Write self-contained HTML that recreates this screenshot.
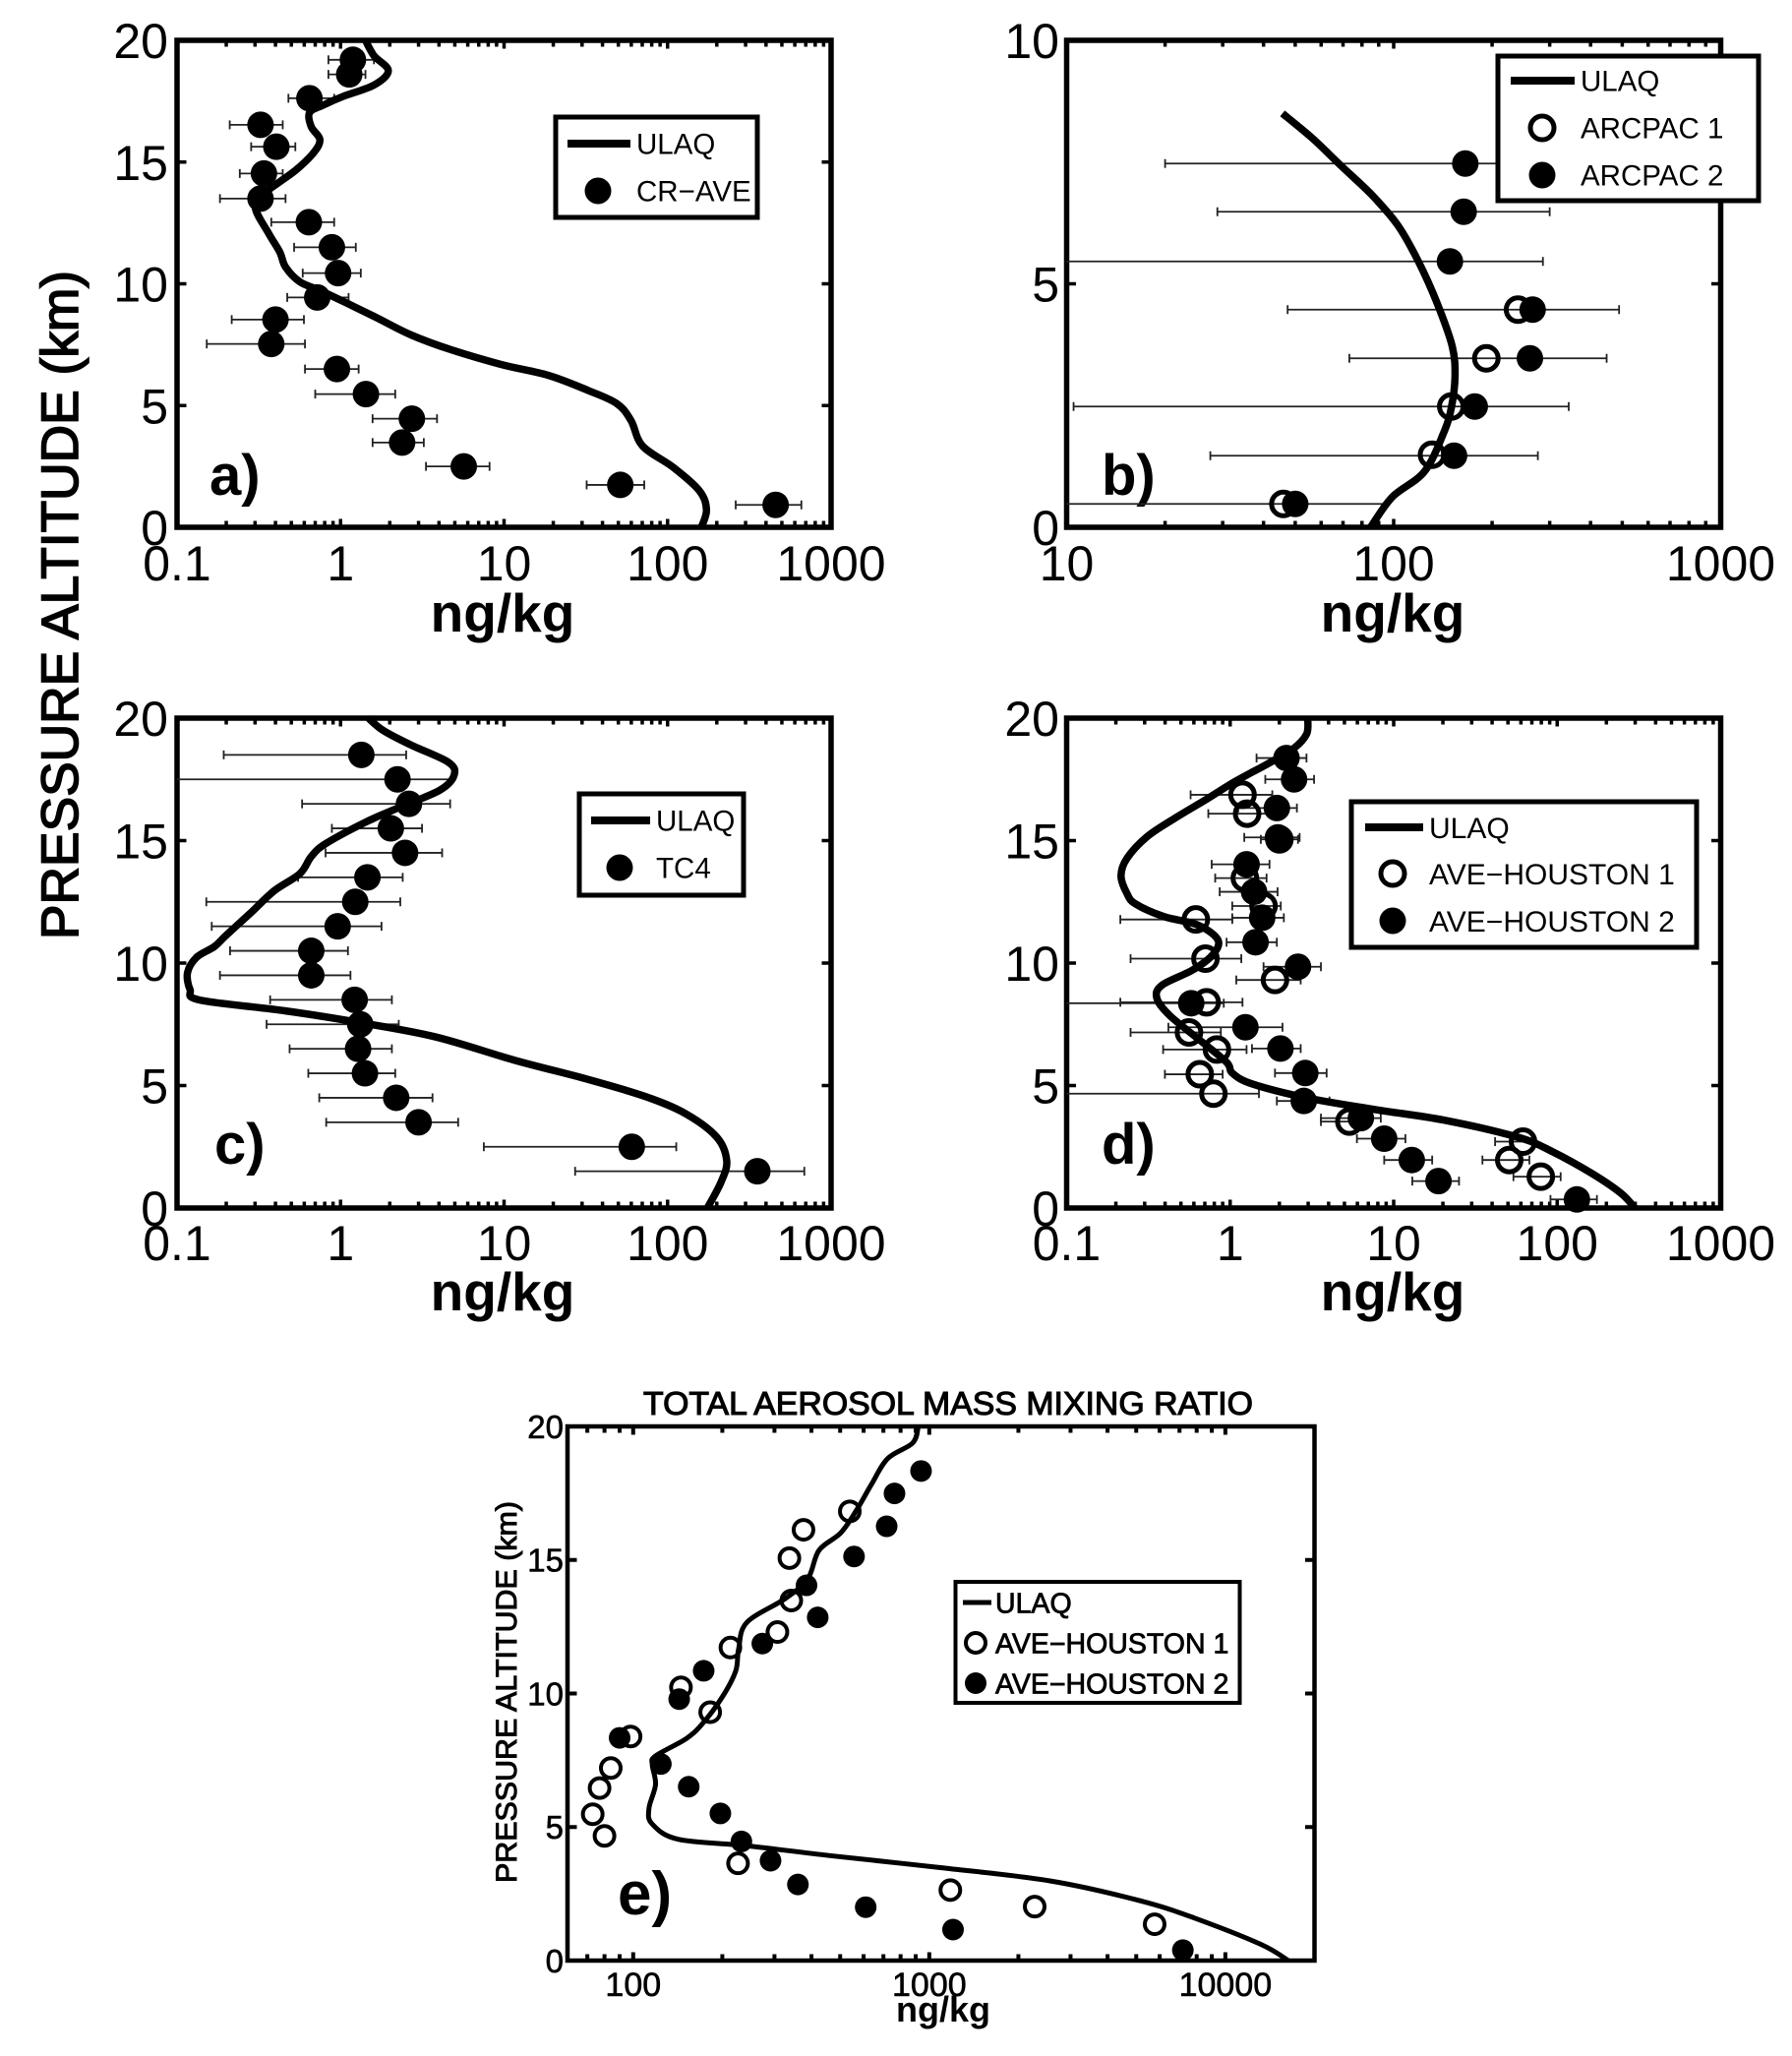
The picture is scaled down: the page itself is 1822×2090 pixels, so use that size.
<!DOCTYPE html>
<html lang="en">
<head>
<meta charset="utf-8">
<title>Aerosol mass mixing ratio profiles</title>
<style>
html,body{margin:0;padding:0;background:#fff;}
#fig{position:absolute;left:0;top:0;width:1822px;height:2090px;}
text{font-family:"Liberation Sans",sans-serif;fill:#000;}
</style>
</head>
<body>
<svg id="fig" xmlns="http://www.w3.org/2000/svg" width="1822" height="2090" viewBox="0 0 1822 2090"></svg>
<script>
// ---------- Panel a: CR-AVE ----------
const aLineX = [1.42,1.60,1.96,1.60,1.03,.778,.646,.662,.747,.689,.542,.425,.348,.301,.362,.425,.461,.564,.747,1.12,1.67,2.70,4.75,9.8,18.7,32.7,49,59.8,70.3,109,157,173,161];
const aLineY = [20,19.37,18.75,18.16,17.69,17.33,17.03,16.45,15.93,15.41,14.71,14.19,13.75,13.14,12.09,11.3,10.69,10.08,9.73,9.17,8.6,7.9,7.29,6.67,6.24,5.62,5.08,4.38,3.34,2.45,1.49,.71,0];
const aObsAlt = [19.2,18.6,17.62,16.53,15.63,14.53,13.5,12.53,11.5,10.44,9.44,8.53,7.53,6.5,5.47,4.46,3.48,2.5,1.74,.92];
const aObsVal = [1.19,1.13,.645,.324,.405,.34,.324,.64,.885,.966,.72,.40,.377,.95,1.43,2.73,2.38,5.67,51.4,458];
const aObsLo = [.843,.843,.48,.21,.284,.242,.183,.377,.52,.587,.472,.216,.152,.606,.70,1.57,1.57,3.33,32,261];
const aObsHi = [1.60,1.42,.914,.443,.529,.443,.461,.914,1.24,1.33,1.12,.597,.606,1.29,2.16,3.89,3.23,8.15,72,658];

// ---------- Panel b: ARCPAC ----------
const bLineX = [45.7,56.4,68.9,85.9,103,119,136,151,154,150,142,124,99,85];
const bLineY = [8.5,7.99,7.43,6.82,6.2,5.46,4.59,3.72,3.1,2.45,1.93,1.14,.62,0];
const bObs2Alt = [7.47,6.48,5.46,4.47,3.47,2.48,1.47,.48];
const bObs2Val = [165.6,163.7,148.6,266,261,177,153,50];
const bObs2Lo = [20,28.9,9,47.4,73.2,10.5,27.5,9];
const bObs2Hi = [400,300,286,489,448,343,276,95];
const bObs1Alt = [4.47,3.47,2.48,1.49,.48];
const bObs1Val = [240,192,150,131,46];

// ---------- Panel c: TC4 ----------
const cLineX = [1.48,1.81,2.7,4.56,4.95,4.05,2.3,1.42,.81,.662,.564,.393,.284,.198,.169,.132,.116,.12,.138,.461,1.21,3.73,11.5,32.7,73.3,129,200,230,212,175];
const cLineY = [20,19.51,18.9,18.2,17.67,17.06,16.36,15.75,14.87,14.35,13.65,12.95,12.07,11.11,10.67,10.24,9.62,8.92,8.49,8.05,7.61,7.0,6.04,5.25,4.55,3.85,2.89,1.92,1.05,0];
const cObsAlt = [18.5,17.5,16.5,15.5,14.5,13.5,12.5,11.5,10.5,9.5,8.5,7.5,6.5,5.5,4.5,3.5,2.5,1.5];
const cObsVal = [1.34,2.23,2.62,2.03,2.48,1.46,1.23,.96,.662,.662,1.22,1.32,1.28,1.41,2.19,3.0,60.4,354];
const cObsLo = [.193,.09,.582,.885,.81,.55,.151,.163,.211,.183,.371,.353,.488,.635,.741,.817,7.52,27.2];
const cObsHi = [2.52,4.75,4.68,3.15,4.18,2.4,2.32,1.78,1.11,1.15,2.06,2.27,2.06,2.16,3.65,5.24,113,686];

// ---------- Panel d: AVE-HOUSTON ----------
const dLineX = [2.98,2.93,2.4,1.67,1.07,.689,.461,.308,.233,.215,.233,.263,.393,.636,.843,.778,.587,.383,.356,.425,.636,.951,1.03,1.36,2.93,7.7,20.2,57.5,93,164,245,299];
const dLineY = [20,19.34,18.72,18.11,17.41,16.62,15.92,15.14,14.26,13.56,12.86,12.42,11.9,11.55,10.94,10.32,9.71,9.1,8.57,7.87,6.91,5.95,5.51,5.07,4.5,4.02,3.59,2.89,2.31,1.4,.61,0];
const dObs2Alt = [18.37,17.5,16.33,15.13,14.03,12.91,11.85,10.85,9.85,8.36,7.38,6.51,5.51,4.37,3.67,2.83,1.96,1.1,.35];
const dObs2Val = [2.21,2.46,1.93,1.96,1.26,1.4,1.57,1.43,2.6,.578,1.24,2.03,2.88,2.82,6.3,8.75,12.9,18.8,132];
const dObs2Lo = [1.45,1.64,1.12,1.22,.771,.863,1.03,.951,1.6,.09,.419,1.36,1.88,1.93,3.59,5.96,8.75,13,91];
const dObs2Hi = [2.93,3.26,2.56,2.66,1.74,1.95,2.13,1.93,3.59,.914,2.09,2.7,3.89,4.05,8.34,11.8,17.2,25.1,175];
const dObs1Alt = [16.87,16.1,15.05,13.47,12.33,11.78,10.18,9.31,8.4,7.17,6.47,5.46,4.67,3.53,2.71,1.96,1.28];
const dObs1Val = [1.19,1.27,2.0,1.23,1.6,.617,.706,1.88,.718,.56,.83,.652,.79,5.36,61.8,50.9,79.4];
const dObs1Lo = [.573,.735,1.54,.81,1.03,.213,.246,1.09,.213,.246,.389,.399,.09,3.59,41.7,34.9,54];
const dObs1Hi = [1.81,2.0,2.6,1.67,2.04,1.03,1.17,2.7,1.19,.877,1.26,.9,1.5,7.1,70.3,67.6,105];

// ---------- Panel e: total aerosol ----------
const eLineX = [918,879,724,637,572,503,424,389,327,242,227,222,200,172,151,119,116,119,113,116,142,242,461,1089,2571,5117,7870,13150,16330];
const eLineY = [20,19.38,18.8,17.82,16.92,16.02,15.36,14.3,13.56,12.66,11.67,10.85,9.87,8.89,8.31,7.66,7.33,6.59,5.69,5.11,4.54,4.3,3.93,3.48,2.98,2.25,1.59,.61,0];
const eObs2Alt = [18.33,17.49,16.26,15.13,14.05,12.85,11.87,10.85,9.79,8.34,7.36,6.51,5.51,4.46,3.74,2.85,2.0,1.16,.39];
const eObs2Val = [938,763,718,557,385,420,273,173,143,90,124,154,197,232,291,360,610,1203,7185];
const eObs1Alt = [16.82,16.13,15.07,13.48,12.3,11.72,10.23,9.3,8.39,7.21,6.46,5.48,4.67,3.64,2.64,2.02,1.36];
const eObs1Val = [539,376,337,342,307,213,145,182,98,84,77,73,80,226,1178,2270,5770];

// ---------- Tick labels ----------
const xTicksWide = [0.1,1,10,100,1000];
const xTickLabelsWide = ["0.1","1","10","100","1000"];
const xTicksB = [10,100,1000];
const xTickLabelsB = ["10","100","1000"];
const xTicksE = [100,1000,10000];
const xTickLabelsE = ["100","1000","10000"];
const yTicks20 = [0,5,10,15,20];
const yTickLabels20 = ["0","5","10","15","20"];
const yTicks10 = [0,5,10];
const yTickLabels10 = ["0","5","10"];

const NS = "http://www.w3.org/2000/svg";
const fig = document.getElementById("fig");

function mk(parent, tag, attrs){
  const el = document.createElementNS(NS, tag);
  for (const k in attrs) el.setAttribute(k, attrs[k]);
  parent.appendChild(el);
  return el;
}
function label(parent, str, x, y, size, extra){
  const t = mk(parent, "text", Object.assign({x:x, y:y, "font-size":size}, extra || {}));
  t.textContent = str;
  return t;
}
function xScale(p, v){
  return p.left + (Math.log10(v) - Math.log10(p.xMin)) / (Math.log10(p.xMax) - Math.log10(p.xMin)) * (p.right - p.left);
}
function yScale(p, v){
  return p.bottom - (v - p.yMin) / (p.yMax - p.yMin) * (p.bottom - p.top);
}

function drawAxes(p){
  const g = mk(fig, "g", {});
  
  
  const lo = Math.floor(Math.log10(p.xMin)), hi = Math.ceil(Math.log10(p.xMax));
  for (let k = lo; k <= hi; k++){
    for (let m = 1; m < 10; m++){
      const v = m * Math.pow(10, k);
      if (v < p.xMin * 0.999 || v > p.xMax * 1.001) continue;
      const x = xScale(p, v), len = m === 1 ? p.tickMajor + 2 : p.tickMajor;
      const t1 = mk(g, "line", {x1:x, x2:x, y1:p.bottom, y2:p.bottom - len, stroke:"#000", "stroke-width":p.tickW});
      
      
      const t2 = mk(g, "line", {x1:x, x2:x, y1:p.top, y2:p.top + len, stroke:"#000", "stroke-width":p.tickW});
      
      
    }
  }
  p.yTicks.forEach(function(v, i){
    const y = yScale(p, v);
    const t1 = mk(g, "line", {x1:p.left, x2:p.left + p.tickMajor + 3, y1:y, y2:y, stroke:"#000", "stroke-width":p.tickW});
    
    
    const t2 = mk(g, "line", {x1:p.right, x2:p.right - p.tickMajor - 3, y1:y, y2:y, stroke:"#000", "stroke-width":p.tickW});
    
    
    const tl = label(g, p.yLabels[i], p.yLabelX, y + p.tickFont * 0.36, p.tickFont, {"text-anchor":"end", stroke:"#000", "stroke-width":p.tickStroke});
    
    
  });
  p.xTicks.forEach(function(v, i){
    const tl = label(g, p.xLabels[i], xScale(p, v), p.bottom + p.xLabelDy, p.tickFont2 || p.tickFont, {"text-anchor":"middle", stroke:"#000", "stroke-width":p.tickStroke});
    
    
  });
  const box = mk(g, "rect", {x:p.left, y:p.top, width:p.right - p.left, height:p.bottom - p.top, fill:"none", stroke:"#000", "stroke-width":p.border});
  
  
  const xt = label(g, "ng/kg", p.xTitleX, p.bottom + p.xTitleDy, p.xTitleFont, {"text-anchor":"middle", "font-weight":"bold"});
  
  
  const pl = label(g, p.letter, p.letterX, p.letterY, p.letterFont, {"font-weight":"bold"});
  
  
}

function drawBars(p, alt, lo, hi){
  const g = mk(fig, "g", {});
  
  
  alt.forEach(function(a, i){
    const y = yScale(p, a);
    const clipped = lo[i] < p.xMin;
    const x1 = clipped ? p.left : xScale(p, lo[i]);
    const x2 = xScale(p, hi[i]);
    const b = mk(g, "line", {x1:x1, x2:x2, y1:y, y2:y, stroke:"#222", "stroke-width":1.8});
    
    
    if (!clipped){
      const c1 = mk(g, "line", {x1:x1, x2:x1, y1:y - 4.5, y2:y + 4.5, stroke:"#222", "stroke-width":1.8});
      
      
    }
    const c2 = mk(g, "line", {x1:x2, x2:x2, y1:y - 4.5, y2:y + 4.5, stroke:"#222", "stroke-width":1.8});
    
    
  });
}
function drawLine(p, xs, ys){
  const pts = xs.map(function(v, i){ return [xScale(p, v), yScale(p, ys[i])]; });
  let d = "M" + pts[0][0].toFixed(1) + " " + pts[0][1].toFixed(1);
  for (let i = 0; i < pts.length - 1; i++){
    const p0 = pts[Math.max(i - 1, 0)], p1 = pts[i], p2 = pts[i + 1], p3 = pts[Math.min(i + 2, pts.length - 1)];
    const c1x = p1[0] + (p2[0] - p0[0]) / 6, c1y = p1[1] + (p2[1] - p0[1]) / 6;
    const c2x = p2[0] - (p3[0] - p1[0]) / 6, c2y = p2[1] - (p3[1] - p1[1]) / 6;
    d += "C" + c1x.toFixed(1) + " " + c1y.toFixed(1) + " " + c2x.toFixed(1) + " " + c2y.toFixed(1) + " " + p2[0].toFixed(1) + " " + p2[1].toFixed(1);
  }
  const l = mk(fig, "path", {d:d, fill:"none", stroke:"#000", "stroke-width":p.lineW, "stroke-linejoin":"round"});
  
  
}
function drawOpen(p, vals, alt){
  const g = mk(fig, "g", {});
  
  
  vals.forEach(function(v, i){
    const c = mk(g, "circle", {cx:xScale(p, v), cy:yScale(p, alt[i]), r:p.openR, fill:"none", stroke:"#000", "stroke-width":p.openW});
    
    
  });
}
function drawFilled(p, vals, alt){
  const g = mk(fig, "g", {});
  
  
  vals.forEach(function(v, i){
    const c = mk(g, "circle", {cx:xScale(p, v), cy:yScale(p, alt[i]), r:p.fillR, fill:"#000"});
    
    
  });
}
function drawLegend(p, L){
  const g = mk(fig, "g", {});
  
  
  const box = mk(g, "rect", {x:L.x, y:L.y, width:L.w, height:L.h, fill:"#fff", stroke:"#000", "stroke-width":L.border});
  
  
  const ln = mk(g, "line", {x1:L.lineX1, x2:L.lineX2, y1:L.rows[0], y2:L.rows[0], stroke:"#000", "stroke-width":L.lineW});
  
  
  L.names.forEach(function(n, i){
    const t = label(g, n, L.textX, L.rows[i] + L.font * 0.36, L.font, {stroke:"#000", "stroke-width":L.textStroke});
    
    
  });
  L.marks.forEach(function(m, i){
    const c = mk(g, "circle", m === "open"
      ? {cx:L.markX, cy:L.rows[i + 1], r:p.openR, fill:"none", stroke:"#000", "stroke-width":p.openW}
      : {cx:L.markX, cy:L.rows[i + 1], r:p.fillR, fill:"#000"});
    
    
  });
}

const base = {tickMajor:6.5, tickW:3.5, border:5.5, tickFont:50, tickStroke:0, xLabelDy:54, xTitleDy:106, xTitleFont:55, letterFont:58, lineW:7.5, openR:12, openW:5, fillR:13.5, yMin:0};
const pA = Object.assign({}, base, {id:"panel-a", left:180, right:845, top:41, bottom:536, xMin:0.1, xMax:1000, yMax:20, xTicks:xTicksWide, xLabels:xTickLabelsWide, yTicks:yTicks20, yLabels:yTickLabels20, yLabelX:171, xTitleX:511, letter:"a)", letterX:213, letterY:503});
const pB = Object.assign({}, base, {id:"panel-b", left:1084.5, right:1749.5, top:41, bottom:536, xMin:10, xMax:1000, yMax:10, xTicks:xTicksB, xLabels:xTickLabelsB, yTicks:yTicks10, yLabels:yTickLabels10, yLabelX:1077, xTitleX:1416, letter:"b)", letterX:1120, letterY:503});
const pC = Object.assign({}, base, {id:"panel-c", left:180, right:845, top:730, bottom:1228, xMin:0.1, xMax:1000, yMax:20, xTicks:xTicksWide, xLabels:xTickLabelsWide, yTicks:yTicks20, yLabels:yTickLabels20, yLabelX:171, xTitleX:511, xLabelDy:53, xTitleDy:104, letter:"c)", letterX:218, letterY:1183});
const pD = Object.assign({}, base, {id:"panel-d", left:1084.5, right:1749.5, top:730, bottom:1228, xMin:0.1, xMax:1000, yMax:20, xTicks:xTicksWide, xLabels:xTickLabelsWide, yTicks:yTicks20, yLabels:yTickLabels20, yLabelX:1077, xTitleX:1416, xLabelDy:53, xTitleDy:104, letter:"d)", letterX:1120, letterY:1183});
const pE = Object.assign({}, base, {id:"panel-e", left:577, right:1336.5, top:1450, bottom:1993, xMin:60, xMax:20000, yMax:20, xTicks:xTicksE, xLabels:xTickLabelsE, yTicks:yTicks20, yLabels:yTickLabels20, yLabelX:573, tickFont:33, tickFont2:34, tickStroke:0.6, xLabelDy:36, xTitleDy:62, xTitleX:959, xTitleFont:36, letter:"e)", letterX:628, letterY:1946, letterFont:62, lineW:5, openR:10, openW:4, fillR:11, border:4.5, tickW:4});

[pA,pB,pC,pD,pE].forEach(drawAxes);

drawBars(pA, aObsAlt, aObsLo, aObsHi);
drawLine(pA, aLineX, aLineY);
drawFilled(pA, aObsVal, aObsAlt);
drawLegend(pA, {x:565, y:119, w:205, h:102, border:5, lineX1:577, lineX2:641, lineW:8, rows:[146,194], names:["ULAQ","CR\u2212AVE"], marks:["filled"], textX:647, font:29.5, textStroke:0, markX:608});

drawBars(pB, bObs2Alt, bObs2Lo, bObs2Hi);
drawLine(pB, bLineX, bLineY);
drawOpen(pB, bObs1Val, bObs1Alt);
drawFilled(pB, bObs2Val, bObs2Alt);
drawLegend(pB, {x:1523, y:57, w:265, h:147, border:5, lineX1:1536, lineX2:1601, lineW:8, rows:[82,130,178], names:["ULAQ","ARCPAC 1","ARCPAC 2"], marks:["open","filled"], textX:1607, font:29.5, textStroke:0, markX:1568});

drawBars(pC, cObsAlt, cObsLo, cObsHi);
drawLine(pC, cLineX, cLineY);
drawFilled(pC, cObsVal, cObsAlt);
drawLegend(pC, {x:589, y:807, w:167, h:103, border:5, lineX1:601, lineX2:661, lineW:8, rows:[834,882], names:["ULAQ","TC4"], marks:["filled"], textX:667, font:29.5, textStroke:0, markX:630});

drawBars(pD, dObs1Alt, dObs1Lo, dObs1Hi);
drawBars(pD, dObs2Alt, dObs2Lo, dObs2Hi);
drawLine(pD, dLineX, dLineY);
drawOpen(pD, dObs1Val, dObs1Alt);
drawFilled(pD, dObs2Val, dObs2Alt);
drawLegend(pD, {x:1374, y:815, w:351, h:148, border:5, lineX1:1388, lineX2:1447, lineW:8, rows:[841,888,936], names:["ULAQ","AVE\u2212HOUSTON 1","AVE\u2212HOUSTON 2"], marks:["open","filled"], textX:1453, font:30, textStroke:0, markX:1416});

drawLine(pE, eLineX, eLineY);
drawOpen(pE, eObs1Val, eObs1Alt);
drawFilled(pE, eObs2Val, eObs2Alt);
drawLegend(pE, {x:971.5, y:1608, w:289, h:123, border:4, lineX1:979, lineX2:1008, lineW:5, rows:[1629,1670,1711], names:["ULAQ","AVE\u2212HOUSTON 1","AVE\u2212HOUSTON 2"], marks:["open","filled"], textX:1012, font:28.5, textStroke:0.8, markX:992});

const yTitle = label(fig, "PRESSURE ALTITUDE (km)", 0, 0, 52.5, {"text-anchor":"middle", textLength:680, lengthAdjust:"spacingAndGlyphs", transform:"translate(79 615) rotate(-90)", stroke:"#000", "stroke-width":1.6});



const eyTitle = label(fig, "PRESSURE ALTITUDE (km)", 0, 0, 30, {"text-anchor":"middle", textLength:388, lengthAdjust:"spacingAndGlyphs", transform:"translate(525 1720) rotate(-90)", stroke:"#000", "stroke-width":1});



const eTitle = label(fig, "TOTAL AEROSOL MASS MIXING RATIO", 964, 1438, 33, {"text-anchor":"middle", textLength:620, lengthAdjust:"spacingAndGlyphs", stroke:"#000", "stroke-width":1.1});


</script>
</body>
</html>
